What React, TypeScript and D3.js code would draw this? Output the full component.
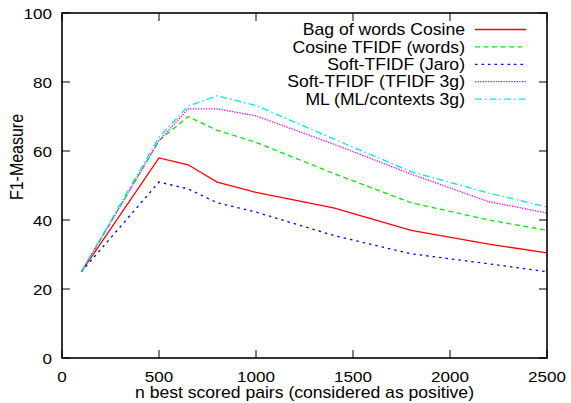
import { useRef, useEffect } from "react";
import * as d3 from "d3";

// x positions (n best scored pairs)
const nPairs = [100, 500, 650, 800, 1000, 1400, 1800, 2200, 2500];

const bagOfWords = [25, 58, 56, 51, 48, 43.5, 37, 33, 30.5];
const cosineTfidf = [25, 63, 70, 66, 62.5, 53.5, 45, 40, 37];
const softJaro = [25, 51, 49, 45, 42.3, 35.5, 30.2, 27.3, 25];
const softTfidf3g = [25, 63, 72.2, 72.2, 70.2, 62, 53.3, 45.3, 42];
const mlContexts = [25, 64, 73, 76, 73.2, 63.5, 54, 47.8, 43.8];

const seriesNames = [
  "Bag of words Cosine",
  "Cosine TFIDF (words)",
  "Soft-TFIDF (Jaro)",
  "Soft-TFIDF (TFIDF 3g)",
  "ML (ML/contexts 3g)",
];
const seriesValues = [bagOfWords, cosineTfidf, softJaro, softTfidf3g, mlContexts];
const seriesColors = ["#ff0000", "#00ee00", "#0000ff", "#ff00ff", "#00e8e8"];
const seriesDash = ["none", "5,3.5", "2.5,4", "1.3,1.3", "7,3,1.5,3"];

const xTicks = [0, 500, 1000, 1500, 2000, 2500];
const yTicks = [0, 20, 40, 60, 80, 100];

const W = 571;
const H = 403;
const SX = 1.1; // text in the original is a little wide

const App = () => {
  const svgRef = useRef(null);

  useEffect(() => {
    const svg = d3.select(svgRef.current);
    svg.selectAll("*").remove();

    const margin = { top: 13, right: 24, bottom: 45, left: 62 };
    const x = d3.scaleLinear().domain([0, 2500]).range([margin.left, W - margin.right]);
    const y = d3.scaleLinear().domain([0, 100]).range([H - margin.bottom, margin.top]);
    const font = "'Liberation Sans', Arial, sans-serif";
    const tickLen = 8;

    const label = (px, py, txt, anchor, size, rotate = false) => {
      svg
        .append("text")
        .attr("transform", `translate(${px},${py}) scale(${SX},1)${rotate ? " rotate(-90)" : ""}`)
        .attr("text-anchor", anchor)
        .attr("font-family", font)
        .attr("font-size", size)
        .text(txt);
    };

    // ticks (inside, mirrored)
    const ticks = svg.append("g").attr("stroke", "#000").attr("stroke-width", 1);
    xTicks.forEach((t) => {
      ticks.append("line").attr("x1", x(t)).attr("x2", x(t)).attr("y1", y(0)).attr("y2", y(0) - tickLen);
      ticks.append("line").attr("x1", x(t)).attr("x2", x(t)).attr("y1", y(100)).attr("y2", y(100) + tickLen);
    });
    yTicks.forEach((t) => {
      ticks.append("line").attr("x1", x(0)).attr("x2", x(0) + tickLen).attr("y1", y(t)).attr("y2", y(t));
      ticks.append("line").attr("x1", x(2500)).attr("x2", x(2500) - tickLen).attr("y1", y(t)).attr("y2", y(t));
    });

    // tick labels
    xTicks.forEach((t) => label(x(t), y(0) + 23.5, t, "middle", 15.5));
    yTicks.forEach((t) => label(x(0) - 10, y(t) + 5.5, t, "end", 15.5));

    // axis titles
    label((x(0) + x(2500)) / 2, 398, "n best scored pairs (considered as positive)", "middle", 16);
    label(23, 157, "F1-Measure", "middle", 16, true);

    // lines
    const line = d3
      .line()
      // @ts-ignore
      .x((d) => x(d[0]))
      // @ts-ignore
      .y((d) => y(d[1]));

    seriesValues.forEach((vals, i) => {
      svg
        .append("path")
        .datum(nPairs.map((n, j) => [n, vals[j]]))
        // @ts-ignore
        .attr("d", line)
        .attr("fill", "none")
        .attr("stroke", seriesColors[i])
        .attr("stroke-width", 1.3)
        .attr("stroke-dasharray", seriesDash[i]);
    });

    // legend
    seriesNames.forEach((name, i) => {
      const ly = 29.5 + i * 17.4;
      label(465, ly + 5.7, name, "end", 16);
      svg
        .append("line")
        .attr("x1", 475)
        .attr("x2", 526)
        .attr("y1", ly)
        .attr("y2", ly)
        .attr("stroke", seriesColors[i])
        .attr("stroke-width", 1.3)
        .attr("stroke-dasharray", seriesDash[i]);
    });

    // frame
    svg
      .append("rect")
      .attr("x", x(0))
      .attr("y", y(100))
      .attr("width", x(2500) - x(0))
      .attr("height", y(0) - y(100))
      .attr("fill", "none")
      .attr("stroke", "#000")
      .attr("stroke-width", 1.6);
  }, []);

  return (
    <svg
      ref={svgRef}
      width={W}
      height={H}
      style={{ position: "absolute", left: 0, top: 0, background: "#fff" }}
    ></svg>
  );
};

export default App;
